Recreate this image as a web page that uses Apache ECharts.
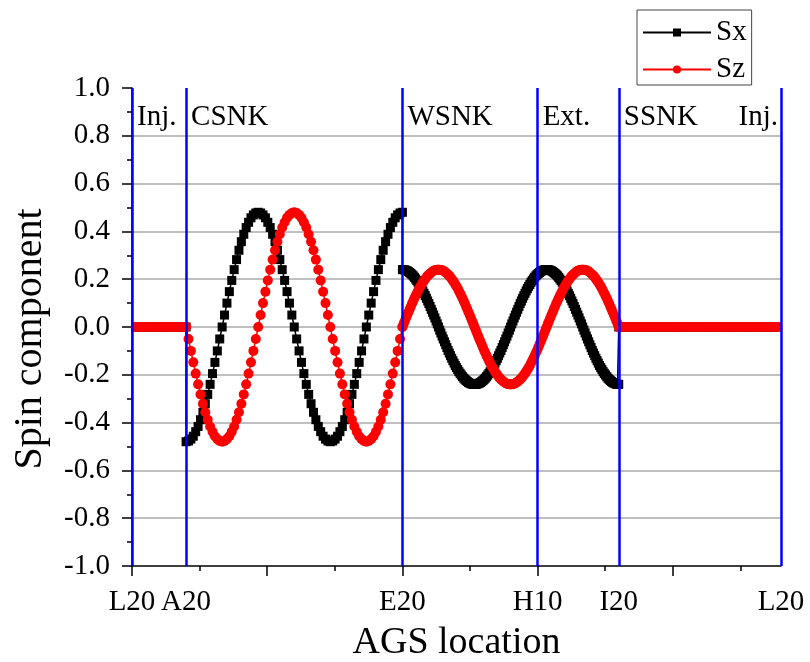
<!DOCTYPE html>
<html><head><meta charset="utf-8">
<script src="https://cdn.jsdelivr.net/npm/echarts@6/dist/echarts.min.js"></script>
<style>html,body{margin:0;padding:0;background:#fff}#c{width:810px;height:662px}</style>
</head><body><div id="c"></div>
<script>
const FONT = '"Liberation Serif","Times New Roman",serif';
// x position along the ring, one AGS superperiod = 45 units (L20 -> L20 = 540)
const labelValues = [0, 45, 225, 337.5, 405, 540];
const labelNames = ['L20', 'A20', 'E20', 'H10', 'I20', 'L20'];
const majorTicks = [0, 112.5, 225, 337.5, 450];
const minorTicks = [56.25, 168.75, 281.25, 393.75, 506.25];
const blueLines = [0, 45, 225, 337.5, 405, 540];
const sectionNames = ['Inj.', 'CSNK', 'WSNK', 'Ext.', 'SSNK', 'Inj.'];
const sectionAt = [0, 45, 225, 337.5, 405, 540];

// injection region (L20 -> A20)
const injStart = 3, injStep = 3;
const injSx = [0,0,0,0,0,0,0,0,0,0,0,0,0,0,0];
const injSz = [0,0,0,0,0,0,0,0,0,0,0,0,0,0,0];

// cold snake region (A20 -> E20)
const csnkStart = 45, csnkStep = 2;
const csnkSx = [-0.480,-0.477,-0.469,-0.457,-0.438,-0.416,-0.388,-0.357,-0.321,-0.282,-0.240,-0.195,-0.148,-0.100,-0.050,0,
0.050,0.100,0.148,0.195,0.240,0.282,0.321,0.357,0.388,0.416,0.438,0.457,0.469,0.477,0.480,
0.477,0.469,0.457,0.438,0.416,0.388,0.357,0.321,0.282,0.240,0.195,0.148,0.100,0.050,0,
-0.050,-0.100,-0.148,-0.195,-0.240,-0.282,-0.321,-0.357,-0.388,-0.416,-0.438,-0.457,-0.469,-0.477,-0.480,
-0.477,-0.469,-0.457,-0.438,-0.416,-0.388,-0.357,-0.321,-0.282,-0.240,-0.195,-0.148,-0.100,-0.050,0,
0.050,0.100,0.148,0.195,0.240,0.282,0.321,0.357,0.388,0.416,0.438,0.457,0.469,0.477,0.480];
const csnkSz = [0,-0.050,-0.100,-0.148,-0.195,-0.240,-0.282,-0.321,-0.357,-0.388,-0.416,-0.438,-0.457,-0.469,-0.477,-0.480,
-0.477,-0.469,-0.457,-0.438,-0.416,-0.388,-0.357,-0.321,-0.282,-0.240,-0.195,-0.148,-0.100,-0.050,0,
0.050,0.100,0.148,0.195,0.240,0.282,0.321,0.357,0.388,0.416,0.438,0.457,0.469,0.477,0.480,
0.477,0.469,0.457,0.438,0.416,0.388,0.357,0.321,0.282,0.240,0.195,0.148,0.100,0.050,0,
-0.050,-0.100,-0.148,-0.195,-0.240,-0.282,-0.321,-0.357,-0.388,-0.416,-0.438,-0.457,-0.469,-0.477,-0.480,
-0.477,-0.469,-0.457,-0.438,-0.416,-0.388,-0.357,-0.321,-0.282,-0.240,-0.195,-0.148,-0.100,-0.050,0];

// warm snake + extraction region (E20 -> I20)
const wsnkStart = 225, wsnkStep = 1;
const wsnkSx = [0.240,0.240,0.239,0.237,0.235,0.232,0.228,0.224,0.219,0.214,0.208,0.201,0.194,0.187,0.178,0.170,0.161,0.151,0.141,0.131,0.120,0.109,0.098,0.086,0.074,0.062,0.050,0.038,0.025,0.013,0,
-0.013,-0.025,-0.038,-0.050,-0.062,-0.074,-0.086,-0.098,-0.109,-0.120,-0.131,-0.141,-0.151,-0.161,-0.170,-0.178,-0.187,-0.194,-0.201,-0.208,-0.214,-0.219,-0.224,-0.228,-0.232,-0.235,-0.237,-0.239,-0.240,-0.240,
-0.240,-0.239,-0.237,-0.235,-0.232,-0.228,-0.224,-0.219,-0.214,-0.208,-0.201,-0.194,-0.187,-0.178,-0.170,-0.161,-0.151,-0.141,-0.131,-0.120,-0.109,-0.098,-0.086,-0.074,-0.062,-0.050,-0.038,-0.025,-0.013,0,
0.013,0.025,0.038,0.050,0.062,0.074,0.086,0.098,0.109,0.120,0.131,0.141,0.151,0.161,0.170,0.178,0.187,0.194,0.201,0.208,0.214,0.219,0.224,0.228,0.232,0.235,0.237,0.239,0.240,0.240,
0.240,0.239,0.237,0.235,0.232,0.228,0.224,0.219,0.214,0.208,0.201,0.194,0.187,0.178,0.170,0.161,0.151,0.141,0.131,0.120,0.109,0.098,0.086,0.074,0.062,0.050,0.038,0.025,0.013,0,
-0.013,-0.025,-0.038,-0.050,-0.062,-0.074,-0.086,-0.098,-0.109,-0.120,-0.131,-0.141,-0.151,-0.161,-0.170,-0.178,-0.187,-0.194,-0.201,-0.208,-0.214,-0.219,-0.224,-0.228,-0.232,-0.235,-0.237,-0.239,-0.240,-0.240];
const wsnkSz = [0,0.013,0.025,0.038,0.050,0.062,0.074,0.086,0.098,0.109,0.120,0.131,0.141,0.151,0.161,0.170,0.178,0.187,0.194,0.201,0.208,0.214,0.219,0.224,0.228,0.232,0.235,0.237,0.239,0.240,0.240,
0.240,0.239,0.237,0.235,0.232,0.228,0.224,0.219,0.214,0.208,0.201,0.194,0.187,0.178,0.170,0.161,0.151,0.141,0.131,0.120,0.109,0.098,0.086,0.074,0.062,0.050,0.038,0.025,0.013,0,
-0.013,-0.025,-0.038,-0.050,-0.062,-0.074,-0.086,-0.098,-0.109,-0.120,-0.131,-0.141,-0.151,-0.161,-0.170,-0.178,-0.187,-0.194,-0.201,-0.208,-0.214,-0.219,-0.224,-0.228,-0.232,-0.235,-0.237,-0.239,-0.240,-0.240,
-0.240,-0.239,-0.237,-0.235,-0.232,-0.228,-0.224,-0.219,-0.214,-0.208,-0.201,-0.194,-0.187,-0.178,-0.170,-0.161,-0.151,-0.141,-0.131,-0.120,-0.109,-0.098,-0.086,-0.074,-0.062,-0.050,-0.038,-0.025,-0.013,0,
0.013,0.025,0.038,0.050,0.062,0.074,0.086,0.098,0.109,0.120,0.131,0.141,0.151,0.161,0.170,0.178,0.187,0.194,0.201,0.208,0.214,0.219,0.224,0.228,0.232,0.235,0.237,0.239,0.240,0.240,
0.240,0.239,0.237,0.235,0.232,0.228,0.224,0.219,0.214,0.208,0.201,0.194,0.187,0.178,0.170,0.161,0.151,0.141,0.131,0.120,0.109,0.098,0.086,0.074,0.062,0.050,0.038,0.025,0.013,0];

// siberian snake + injection region (I20 -> L20)
const ssnkStart = 405, ssnkStep = 3;
const ssnkSx = [0,0,0,0,0,0,0,0,0,0,0,0,0,0,0,0,0,0,0,0,0,0,0,0,0,0,0,0,0,0,0,0,0,0,0,0,0,0,0,0,0,0,0,0,0];
const ssnkSz = [0,0,0,0,0,0,0,0,0,0,0,0,0,0,0,0,0,0,0,0,0,0,0,0,0,0,0,0,0,0,0,0,0,0,0,0,0,0,0,0,0,0,0,0,0];

const segments = [
  {start: injStart, step: injStep, sx: injSx, sz: injSz},
  {start: csnkStart, step: csnkStep, sx: csnkSx, sz: csnkSz},
  {start: wsnkStart, step: wsnkStep, sx: wsnkSx, sz: wsnkSz},
  {start: ssnkStart, step: ssnkStep, sx: ssnkSx, sz: ssnkSz}
];
function points(key) {
  const out = [];
  segments.forEach(s => s[key].forEach((v, i) => out.push([s.start + i * s.step, v])));
  return out;
}

const chart = echarts.init(document.getElementById('c'), null, {renderer: 'canvas'});
const baseX = {
  type: 'value', min: 0, max: 540, gridIndex: 0, position: 'bottom',
  splitLine: {show: false}
};
chart.setOption({
  animation: false,
  backgroundColor: '#fff',
  textStyle: {fontFamily: FONT},
  grid: {left: 132, right: 29, top: 88, bottom: 96, containLabel: false, outerBoundsMode: 'none'},
  legend: {
    orient: 'vertical', left: 637, top: 10,
    itemWidth: 68, itemHeight: 10, itemGap: 8,
    padding: [8, 5, 1, 5],
    borderColor: '#444', borderWidth: 1,
    textStyle: {fontFamily: FONT, fontSize: 29, color: '#000'},
    data: ['Sx', 'Sz']
  },
  xAxis: [
    Object.assign({}, baseX, {
      name: 'AGS location', nameLocation: 'middle', nameGap: 58,
      nameTextStyle: {fontFamily: FONT, fontSize: 38, color: '#000'},
      axisLine: {show: true, onZero: false, lineStyle: {color: '#000', width: 1.5}},
      axisTick: {show: true, customValues: majorTicks, length: 10, lineStyle: {color: '#000', width: 1.5}},
      axisLabel: {
        show: true, customValues: labelValues, margin: 22,
        fontFamily: FONT, fontSize: 29, color: '#000',
        formatter: v => labelNames[labelValues.indexOf(v)]
      }
    }),
    Object.assign({}, baseX, {
      axisLine: {show: false, onZero: false},
      axisTick: {show: true, customValues: minorTicks, length: 5, lineStyle: {color: '#000', width: 1.5}},
      axisLabel: {show: false}
    })
  ],
  yAxis: {
    type: 'value', min: -1, max: 1, interval: 0.2,
    axisLine: {show: true, onZero: false, lineStyle: {color: '#000', width: 1.5}},
    axisTick: {show: true, length: 10, lineStyle: {color: '#000', width: 1.5}},
    minorTick: {show: true, splitNumber: 2, length: 5, lineStyle: {color: '#000', width: 1.5}},
    axisLabel: {
      margin: 22, fontFamily: FONT, fontSize: 29, color: '#000',
      formatter: v => (Math.abs(v) < 1e-9 ? 0 : v).toFixed(1)
    },
    splitLine: {show: true, showMinLine: false, showMaxLine: false, lineStyle: {color: '#ababab', width: 1.5}}
  },
  series: [
    {
      name: 'Sx', type: 'line', data: points('sx'),
      symbol: 'rect', symbolSize: 9, showAllSymbol: true,
      lineStyle: {color: '#000', width: 1.5}, itemStyle: {color: '#000'}, z: 2
    },
    {
      name: 'Sz', type: 'line', data: points('sz'),
      symbol: 'circle', symbolSize: 10, showAllSymbol: true,
      lineStyle: {color: '#ff0000', width: 1.5}, itemStyle: {color: '#ff0000'}, z: 3
    },
    {
      type: 'line', data: [], z: 5, silent: true,
      markLine: {
        silent: true, symbol: ['none', 'none'], animation: false,
        label: {show: false},
        lineStyle: {color: '#0000ff', width: 2.5, type: 'solid'},
        emphasis: {disabled: true},
        data: blueLines.map(v => ({xAxis: v}))
      }
    }
  ]
});

const labelY = chart.convertToPixel({xAxisIndex: 0, yAxisIndex: 0}, [0, 0.875])[1];
const graphics = sectionNames.map((name, i) => {
  const px = chart.convertToPixel({xAxisIndex: 0, yAxisIndex: 0}, [sectionAt[i], 0])[0];
  const last = i === sectionNames.length - 1;
  return {
    type: 'text', x: last ? px - 3 : px + 5, y: labelY, z: 10,
    style: {text: name, fontFamily: FONT, fontSize: 29, fill: '#000',
            align: last ? 'right' : 'left', verticalAlign: 'middle'}
  };
});
graphics.push({
  type: 'text', x: 30, y: 339, rotation: Math.PI / 2, z: 10,
  style: {text: 'Spin component', fontFamily: FONT, fontSize: 40, fill: '#000',
          align: 'center', verticalAlign: 'middle'}
});
chart.setOption({graphic: graphics});
</script>
</body></html>
